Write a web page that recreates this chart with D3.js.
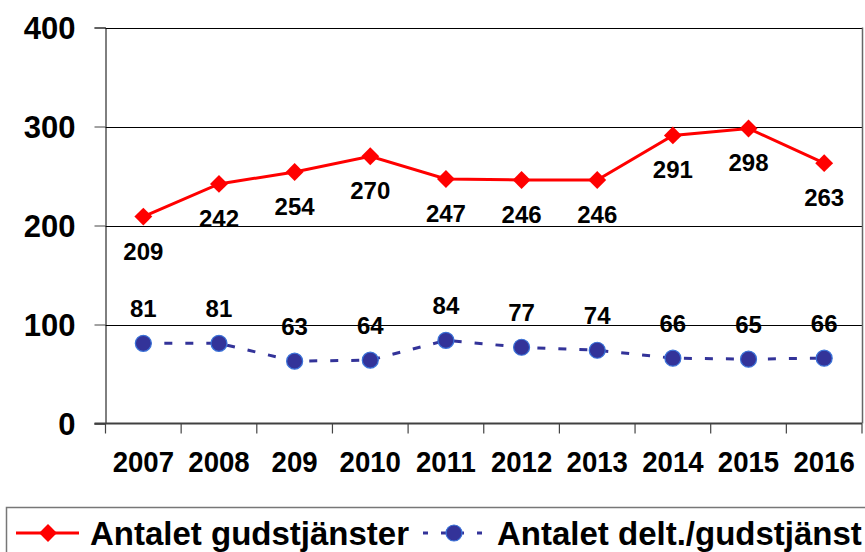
<!DOCTYPE html>
<html>
<head>
<meta charset="utf-8">
<script src="https://cdn.jsdelivr.net/npm/d3@7"></script>
<style>
  body { margin: 0; background: #fff; }
  text { font-family: Arial, "Liberation Sans", sans-serif; font-weight: bold; }
</style>
</head>
<body>
<div id="chart"></div>
<script>
var years = ['2007', '2008', '209', '2010', '2011', '2012', '2013', '2014', '2015', '2016'];
var gudstjanster = [209, 242, 254, 270, 247, 246, 246, 291, 298, 263];
var deltagare = [81, 81, 63, 64, 84, 77, 74, 66, 65, 66];
var yTicks = [0, 100, 200, 300, 400];
var seriesNames = ['Antalet gudstjänster', 'Antalet delt./gudstjänst'];

var width = 865, height = 552;
var margin = {top: 27.5, right: 3, bottom: 128.5, left: 105.5};

var svg = d3.select('#chart')
  .append('svg')
  .attr('width', width)
  .attr('height', height);

var x = d3.scaleBand()
  .domain(years)
  .range([margin.left, width - margin.right])
  .padding(0);

var y = d3.scaleLinear()
  .domain([0, 400])
  .range([height - margin.bottom, margin.top]);

//gridlines
svg.selectAll('.grid')
  .data(yTicks.slice(1))
  .enter()
  .append('line')
  .attr('x1', margin.left)
  .attr('x2', width - margin.right)
  .attr('y1', function (d) { return Math.round(y(d)) + 0.5; })
  .attr('y2', function (d) { return Math.round(y(d)) + 0.5; })
  .style('stroke', '#000')
  .style('stroke-width', 1);

//right border of plot area
svg.append('line')
  .attr('x1', width - margin.right + 0.5)
  .attr('x2', width - margin.right + 0.5)
  .attr('y1', y(400))
  .attr('y2', y(0))
  .style('stroke', '#666')
  .style('stroke-width', 1.5);

//y axis
var yAxis = svg.append('g')
  .attr('transform', 'translate(' + margin.left + ',0)')
  .call(d3.axisLeft(y).tickValues(yTicks).tickSize(11).tickPadding(19));
yAxis.select('.domain').style('stroke', '#000');
yAxis.selectAll('.tick line').style('stroke', '#444');
yAxis.selectAll('.tick text')
  .style('font-size', '31px')
  .style('font-family', 'Arial, "Liberation Sans", sans-serif')
  .style('font-weight', 'bold')
  .attr('fill', '#000')
  .attr('dy', '0.36em');

//x axis labels (slightly condensed like the original)
svg.selectAll('.xlabel')
  .data(years)
  .enter()
  .append('text')
  .attr('transform', function (d) {
    return 'translate(' + (x(d) + x.bandwidth() / 2) + ',' + (y(0) + 48) + ') scale(0.92,1)';
  })
  .attr('text-anchor', 'middle')
  .style('font-size', '30px')
  .text(function (d) { return d; });

//category boundary ticks
svg.selectAll('.xtick')
  .data(years.concat(['end']))
  .enter()
  .append('line')
  .attr('x1', function (d, i) { return i < years.length ? x(d) : x.range()[1]; })
  .attr('x2', function (d, i) { return i < years.length ? x(d) : x.range()[1]; })
  .attr('y1', y(0))
  .attr('y2', y(0) + 10)
  .style('stroke', '#444')
  .style('stroke-width', 1.2);

//zero line
svg.append('line')
  .attr('x1', margin.left - 11)
  .attr('x2', width - margin.right)
  .attr('y1', y(0))
  .attr('y2', y(0))
  .style('stroke', '#404040')
  .style('stroke-width', 2);

function cx(d, i) { return x(years[i]) + x.bandwidth() / 2; }

var line = d3.line()
  .x(function (d, i) { return cx(d, i); })
  .y(function (d) { return y(d); });

//blue dashed series
svg.append('path')
  .datum(deltagare)
  .attr('d', line)
  .style('fill', 'none')
  .style('stroke', '#333399')
  .style('stroke-width', 3)
  .style('stroke-dasharray', '8,13');

svg.selectAll('.dot')
  .data(deltagare)
  .enter()
  .append('circle')
  .attr('cx', cx)
  .attr('cy', function (d) { return y(d); })
  .attr('r', 8)
  .style('fill', '#333399')
  .style('stroke', '#3a72d8')
  .style('stroke-width', 1.2);

//red series
svg.append('path')
  .datum(gudstjanster)
  .attr('d', line)
  .style('fill', 'none')
  .style('stroke', '#ff0000')
  .style('stroke-width', 3);

var diamond = d3.symbol().type(d3.symbolSquare).size(160);
svg.selectAll('.diamond')
  .data(gudstjanster)
  .enter()
  .append('path')
  .attr('d', diamond)
  .attr('transform', function (d, i) {
    return 'translate(' + cx(d, i) + ',' + y(d) + ') rotate(45)';
  })
  .style('fill', '#ff0000');

//data labels
svg.selectAll('.lblRed')
  .data(gudstjanster)
  .enter()
  .append('text')
  .attr('x', cx)
  .attr('y', function (d) { return y(d) + 43; })
  .attr('text-anchor', 'middle')
  .style('font-size', '24px')
  .text(function (d) { return d; });

svg.selectAll('.lblBlue')
  .data(deltagare)
  .enter()
  .append('text')
  .attr('x', cx)
  .attr('y', function (d) { return y(d) - 26.5; })
  .attr('text-anchor', 'middle')
  .style('font-size', '24px')
  .text(function (d) { return d; });

//legend
svg.append('rect')
  .attr('x', 6.5)
  .attr('y', 507.5)
  .attr('width', 880)
  .attr('height', 60)
  .style('fill', 'none')
  .style('stroke', '#777')
  .style('stroke-width', 1.5);

var ly = 533;
svg.append('line')
  .attr('x1', 16).attr('x2', 79)
  .attr('y1', ly).attr('y2', ly)
  .style('stroke', '#ff0000')
  .style('stroke-width', 3);
svg.append('path')
  .attr('d', diamond)
  .attr('transform', 'translate(48,' + ly + ') rotate(45)')
  .style('fill', '#ff0000');
svg.append('text')
  .attr('x', 90)
  .attr('y', 545)
  .style('font-size', '33px')
  .text(seriesNames[0]);

svg.append('line')
  .attr('x1', 423).attr('x2', 489)
  .attr('y1', ly).attr('y2', ly)
  .style('stroke', '#333399')
  .style('stroke-width', 3)
  .style('stroke-dasharray', '5,13');
svg.append('circle')
  .attr('cx', 454)
  .attr('cy', ly)
  .attr('r', 8)
  .style('fill', '#333399')
  .style('stroke', '#3a72d8')
  .style('stroke-width', 1.2);
svg.append('text')
  .attr('x', 497)
  .attr('y', 545)
  .style('font-size', '33px')
  .text(seriesNames[1]);
</script>
</body>
</html>
